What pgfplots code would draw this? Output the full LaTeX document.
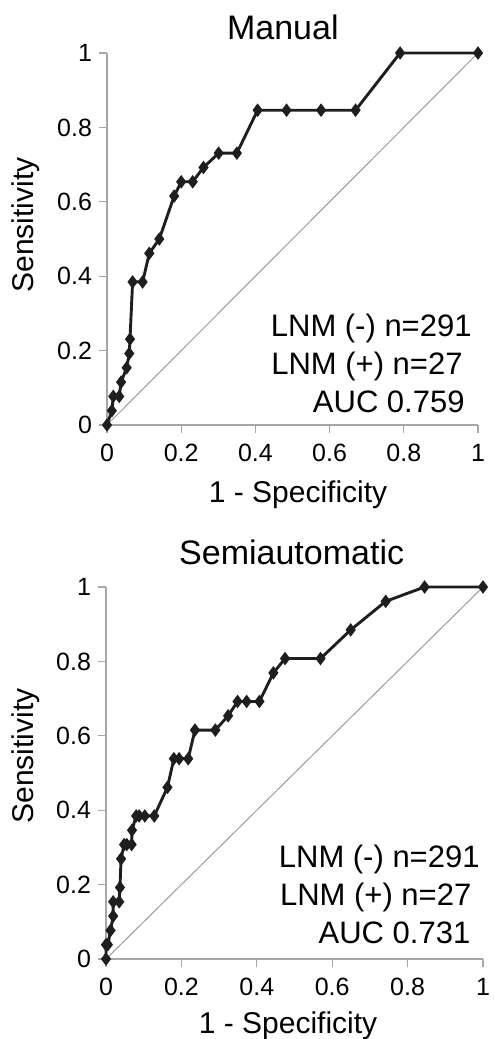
\documentclass[border=0pt]{standalone}
\usepackage{fontspec}
\setmainfont{Liberation Sans}
\usepackage{pgfplots}
\pgfplotsset{compat=1.18}

\definecolor{axisgray}{HTML}{A6A6A6}
\definecolor{diaggray}{HTML}{9A9A9A}
\definecolor{curve}{HTML}{1E1E1E}

\pgfplotsset{
  rocaxis/.style={
    scale only axis,
    anchor=south west,
    height=186pt,
    xmin=0, xmax=1, ymin=0, ymax=1,
    axis lines=left,
    axis line style={-, axisgray, line width=0.6pt},
    tick style={axisgray, line width=0.6pt},
    tick align=outside,
    major tick length=4pt,
    xtick={0,0.2,0.4,0.6,0.8,1}, xticklabels={0,0.2,0.4,0.6,0.8,1},
    ytick={0,0.2,0.4,0.6,0.8,1}, yticklabels={0,0.2,0.4,0.6,0.8,1},
    /pgf/number format/assume math mode=true,
    tick label style={font=\fontsize{12.5}{15}\selectfont, black},
    xticklabel style={yshift=-2pt},
    label style={font=\fontsize{15}{18}\selectfont},
    every axis title shift=0pt,
    title style={font=\fontsize{17}{20}\selectfont, anchor=base},
    xlabel={1 - Specificity}, ylabel={Sensitivity},
    clip=false,
  },
  diag/.style={diaggray, line width=0.5pt, no markers},
  roc/.style={curve, line width=1.45pt, mark=diamond*, mark size=2.2pt,
    mark options={solid, fill=curve}},
}

\begin{document}
\begin{tikzpicture}
\useasboundingbox (0,0) rectangle (246.5pt,-519.5pt);

% Manual
\begin{axis}[rocaxis,
  at={(53.5pt,-212.5pt)}, width=185.5pt,
  title={Manual},
  title style={at={(0.474,1)}, yshift=7pt},
  xlabel style={at={(0.515,0)}, anchor=base, yshift=-38.5pt},
  ylabel style={at={(-0.198,0.538)}, anchor=base},
]
  \addplot[diag] coordinates {(0,0) (1,1)};
  \addplot[roc] coordinates {
    (0,0) (0.013,0.0385) (0.017,0.0769) (0.033,0.0769) (0.038,0.1154)
    (0.053,0.1538) (0.060,0.1923) (0.062,0.2308) (0.069,0.3846) (0.096,0.3846)
    (0.114,0.4615) (0.141,0.5000) (0.181,0.6154) (0.200,0.6538) (0.231,0.6538)
    (0.260,0.6923) (0.301,0.7308) (0.350,0.7308) (0.406,0.8462) (0.484,0.8462)
    (0.577,0.8462) (0.670,0.8462) (0.790,1) (1,1)};
\end{axis}

% Semiautomatic
\begin{axis}[rocaxis,
  at={(53pt,-479.5pt)}, width=188.5pt,
  title={Semiautomatic},
  title style={at={(0.4925,1)}, yshift=11.5pt},
  xlabel style={at={(0.483,0)}, anchor=base, yshift=-37pt},
  ylabel style={at={(-0.193,0.546)}, anchor=base},
]
  \addplot[diag] coordinates {(0,0) (1,1)};
  \addplot[roc] coordinates {
    (0,0) (0,0.0385) (0.005,0.0385) (0.012,0.0769) (0.019,0.1154)
    (0.019,0.1538) (0.035,0.1538) (0.037,0.1923) (0.040,0.2692) (0.048,0.3077)
    (0.055,0.3077) (0.068,0.3077) (0.069,0.3462) (0.080,0.3846) (0.088,0.3846)
    (0.103,0.3846) (0.128,0.3846) (0.163,0.4615) (0.180,0.5385) (0.194,0.5385)
    (0.218,0.5385) (0.236,0.6154) (0.290,0.6154) (0.324,0.6538) (0.349,0.6923)
    (0.373,0.6923) (0.407,0.6923) (0.444,0.7692) (0.475,0.8077) (0.569,0.8077)
    (0.649,0.8846) (0.742,0.9615) (0.845,1) (1,1)};
\end{axis}

\begin{scope}[every node/.style={anchor=base east, inner sep=0pt,
    font=\fontsize{15.5}{18}\selectfont}]
  \node at (236pt,-168.35pt) {LNM (-) n=291};
  \node at (231.5pt,-187pt) {LNM (+) n=27};
  \node at (232.5pt,-206pt) {AUC 0.759};
  \node at (240pt,-433.85pt) {LNM (-) n=291};
  \node at (235.85pt,-452.85pt) {LNM (+) n=27};
  \node at (235.35pt,-471.65pt) {AUC 0.731};
\end{scope}
\end{tikzpicture}
\end{document}
